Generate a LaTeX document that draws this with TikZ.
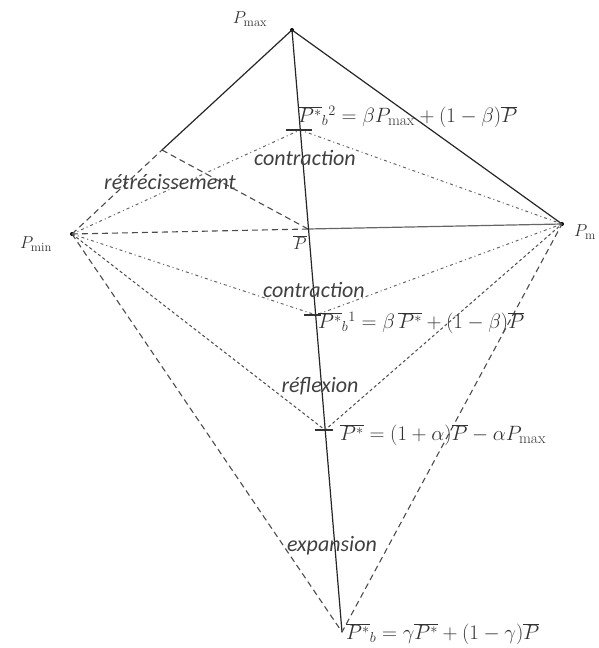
\documentclass[tikz,border=0pt]{standalone}
\usepackage{fontspec}
\newfontfamily\labfont{Carlito}
\begin{document}
\begin{tikzpicture}[x=1pt,y=-1pt,
  edge/.style={line width=1.2pt,black!85},
  dashedge/.style={line width=1.1pt,black!70,dash pattern=on 6pt off 4pt},
  ddot/.style={line width=1pt,black!60,dash pattern=on 3pt off 3pt on 1pt off 3pt},
  fdash/.style={line width=1pt,black!70,dash pattern=on 3pt off 2.5pt},
  tick/.style={line width=1.1pt,black!80},
  vtx/.style={circle,fill=black,inner sep=0pt,minimum size=4pt},
  lab/.style={font=\labfont\itshape\fontsize{22}{24}\selectfont,text=black!75,inner sep=0pt},
  eq/.style={font=\fontsize{22}{24}\selectfont,text=black!80,inner sep=0pt,anchor=west},
  vlab/.style={font=\fontsize{18}{20}\selectfont,text=black!80,inner sep=0pt}]
\useasboundingbox (0,0) rectangle (599,648);
% points
\node[vtx] (pmax) at (292,30) {};
\node[vtx] (pmin) at (72,234) {};
\node[vtx] (pr) at (562,224) {};
\coordinate (pbar) at (308,229);
\coordinate (c2) at (300,130);
\coordinate (c1) at (316,315);
\coordinate (r) at (325,430);
\coordinate (e) at (342,632);
\coordinate (s) at (162,150);
% simplex edges
\draw[edge] (s) -- (pmax.center) -- (pr.center);
\draw[dashedge] (pmin.center) -- (s);
\draw[dashedge] (s) -- (pbar);
\draw[dashedge] (pmin.center) -- (pbar);
\draw[edge,black!60] (pbar) -- (pr.center);
\draw[edge] (pmax.center) -- (e);
% contraction 2
\draw[ddot] (pmin.center) -- (c2) -- (pr.center);
% contraction 1
\draw[ddot] (pmin.center) -- (c1) -- (pr.center);
% reflection
\draw[fdash] (pmin.center) -- (r) -- (pr.center);
% expansion
\draw[dashedge] (pmin.center) -- (e) -- (pr.center);
% ticks
\draw[tick] ([xshift=-14pt]c2) coordinate (c2a) -- ([xshift=12pt]c2) coordinate (c2b);
\draw[tick] ([xshift=-12pt]c1) coordinate (c1a) -- ([xshift=5pt]c1) coordinate (c1b);
\draw[tick] ([xshift=-10pt]r) coordinate (ra) -- ([xshift=8pt]r) coordinate (rb);
% vertex labels
\node[vlab] (lmax) at (250,19) {$P_{\max}$};
\node[vlab] (lmin) at (36,244) {$P_{\min}$};
\node[vlab,anchor=west] (lr) at (574,232) {$P_{\mathrm{m}}$};
\node[vlab] (lbar) at (300,243) {$\overline{P}$};
% operation labels
\node[lab] (lc2) at (305,158) {contraction};
\node[lab] (lret) at (170,182) {rétrécissement};
\node[lab] (lc1) at (314,290) {contraction};
\node[lab] (lrf) at (320,386) {réflexion};
\node[lab] (lex) at (332,546) {expansion};
% equations
\node[eq] (e2) at (298,117) {$\overline{P^{*}}{}_{b}{}^{2} = \beta P_{\max} + (1-\beta)\overline{P}$};
\node[eq] (e1) at (318,323) {$\overline{P^{*}}{}_{b}{}^{1} = \beta\,\overline{P^{*}} + (1-\beta)\overline{P}$};
\node[eq] (er) at (340,435) {$\overline{P^{*}} = (1+\alpha)\overline{P} - \alpha P_{\max}$};
\node[eq] (ee) at (346,634) {$\overline{P^{*}}{}_{b} = \gamma\overline{P^{*}} + (1-\gamma)\overline{P}$};
\end{tikzpicture}
\end{document}
